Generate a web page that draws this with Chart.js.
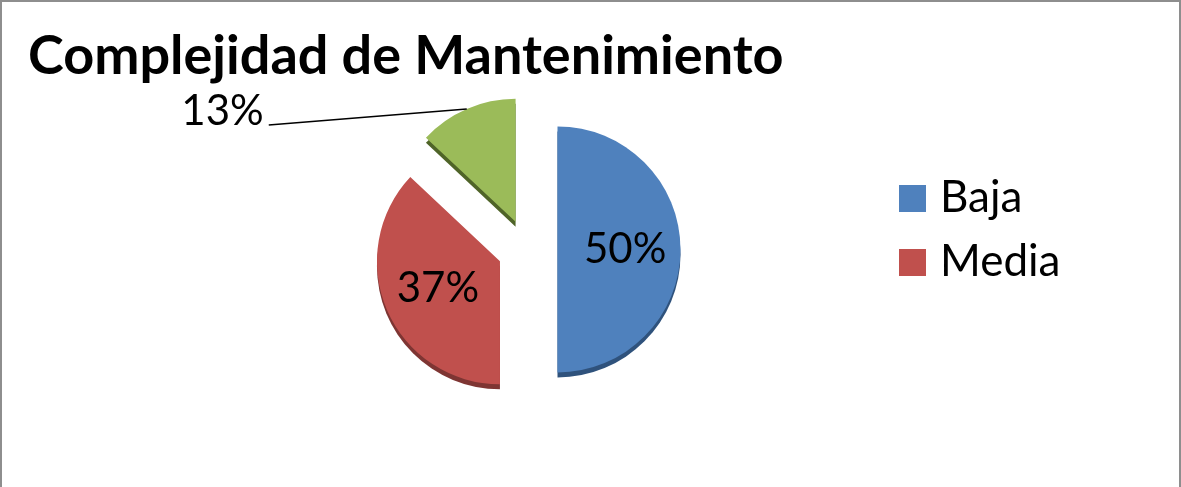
<!DOCTYPE html>
<html lang="es">
<head>
<meta charset="utf-8">
<title>Complejidad de Mantenimiento</title>
<script src="https://cdn.jsdelivr.net/npm/chart.js@4.4.1/dist/chart.umd.min.js"></script>
<style>
  html, body { margin: 0; padding: 0; background: #fff; overflow: hidden; }
  #marco { position: absolute; left: 0; top: 0; width: 1177px; height: 540px; border: 2px solid #8e8e8e; border-bottom: none; }
  #caja { position: relative; width: 1177px; height: 485px; }
</style>
</head>
<body>
<div id="marco"><div id="caja"><canvas id="graficoMantenimiento"></canvas></div></div>
<script>
// Datos del gráfico
const categorias = ['Baja', 'Media', 'Alta'];
const porcentajes = [50, 37, 13];
const enLeyenda = ['Baja', 'Media'];

const colores = ['#4F81BD', '#C0504D', '#9BBB59'];
const coloresCanto = ['#2f527c', '#7e3533', '#4f6428'];

const SEPARACION = 30; // cuánto se separa cada porción del centro
const GROSOR = 5;      // canto oscuro bajo cada porción

// Dibuja el pastel "explotado" con un canto oscuro para dar volumen
const pastel3D = {
    id: 'pastel3D',
    beforeDatasetDraw(chart, args) {
        const ctx = chart.ctx;
        const arcos = args.meta.data;

        // primero los cantos
        arcos.forEach((arco, i) => {
            const medio = (arco.startAngle + arco.endAngle) / 2;
            ctx.save();
            ctx.translate(Math.cos(medio) * SEPARACION, Math.sin(medio) * SEPARACION + GROSOR);
            ctx.beginPath();
            ctx.moveTo(arco.x, arco.y);
            ctx.arc(arco.x, arco.y, arco.outerRadius, arco.startAngle, arco.endAngle);
            ctx.closePath();
            ctx.fillStyle = coloresCanto[i];
            ctx.fill();
            ctx.restore();
        });

        // luego las caras
        arcos.forEach((arco) => {
            const medio = (arco.startAngle + arco.endAngle) / 2;
            ctx.save();
            ctx.translate(Math.cos(medio) * SEPARACION, Math.sin(medio) * SEPARACION);
            arco.draw(ctx);
            ctx.restore();
        });
        return false;
    },
    afterDraw(chart) {
        const ctx = chart.ctx;
        const arcos = chart.getDatasetMeta(0).data;
        ctx.save();
        ctx.fillStyle = '#000';
        ctx.font = '42px Lato';

        arcos.forEach((arco, i) => {
            const medio = (arco.startAngle + arco.endAngle) / 2;
            const cx = arco.x + Math.cos(medio) * SEPARACION;
            const cy = arco.y + Math.sin(medio) * SEPARACION;
            const texto = porcentajes[i] + '%';

            if (porcentajes[i] >= 20) {
                // etiqueta dentro de la porción
                const r = arco.outerRadius * 0.55;
                ctx.textAlign = 'center';
                ctx.textBaseline = 'middle';
                ctx.fillText(texto, cx + Math.cos(medio) * r, cy + Math.sin(medio) * r);
            } else {
                // porción pequeña: etiqueta fuera con línea guía
                const px = cx + Math.cos(medio) * arco.outerRadius;
                const py = cy + Math.sin(medio) * arco.outerRadius;
                const lx = px - 198;
                const ly = py + 16;
                ctx.strokeStyle = '#000';
                ctx.lineWidth = 1.5;
                ctx.beginPath();
                ctx.moveTo(px, py);
                ctx.lineTo(lx, ly);
                ctx.stroke();
                ctx.textAlign = 'right';
                ctx.textBaseline = 'alphabetic';
                ctx.fillText(texto, lx - 5, ly);
            }
        });

        // leyenda a la derecha
        ctx.font = '44px Lato';
        ctx.textAlign = 'left';
        ctx.textBaseline = 'middle';
        enLeyenda.forEach((nombre, j) => {
            const i = categorias.indexOf(nombre);
            const y = 196 + j * 64;
            ctx.fillStyle = colores[i];
            ctx.fillRect(897, y - 13, 27, 27);
            ctx.fillStyle = '#000';
            ctx.fillText(nombre, 938, y);
        });
        ctx.restore();
    }
};

document.addEventListener('DOMContentLoaded', () => {
    Chart.defaults.font.family = 'Lato';
    const lienzo = document.getElementById('graficoMantenimiento');

    new Chart(lienzo.getContext('2d'), {
        type: 'pie',
        data: {
            labels: categorias,
            datasets: [{
                data: porcentajes,
                backgroundColor: colores,
                borderWidth: 0
            }]
        },
        options: {
            responsive: true,
            maintainAspectRatio: false,
            animation: false,
            events: [],
            radius: 123,
            layout: {
                padding: { left: 26, right: 152, top: 0, bottom: 77 }
            },
            plugins: {
                legend: { display: false },
                tooltip: { enabled: false },
                title: {
                    display: true,
                    text: 'Complejidad de Mantenimiento',
                    align: 'start',
                    color: '#000',
                    font: { family: 'Lato', size: 54, weight: 'bold' },
                    padding: { top: 22, bottom: 0 }
                }
            }
        },
        plugins: [pastel3D]
    });
});
</script>
</body>
</html>
